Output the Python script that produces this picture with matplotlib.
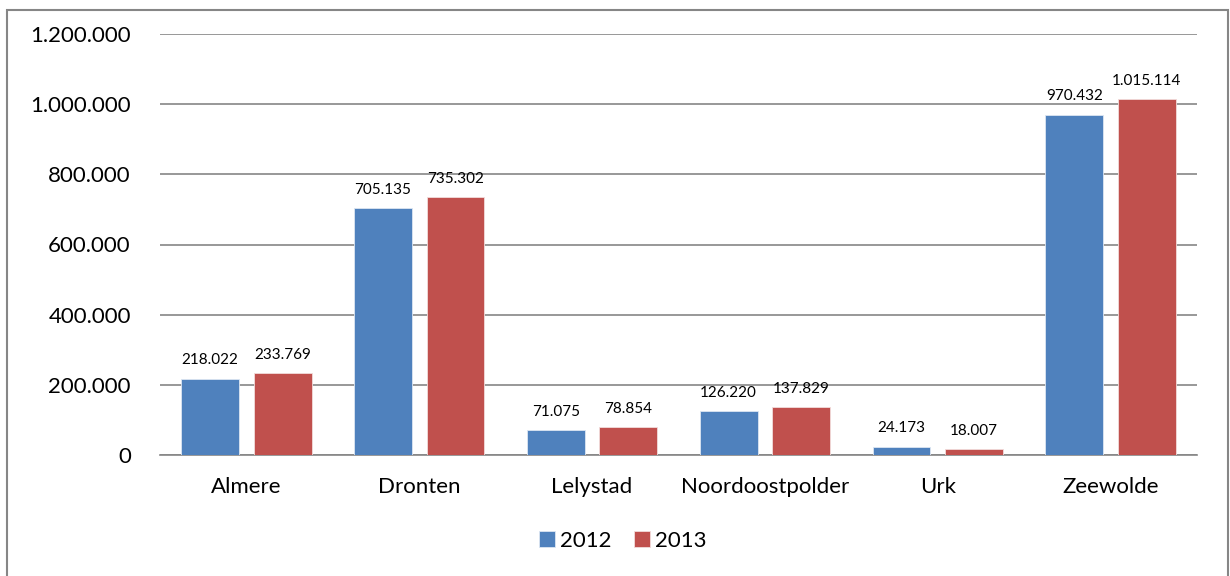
import matplotlib
matplotlib.use("Agg")
import matplotlib.pyplot as plt
import numpy as np
from matplotlib.patches import Rectangle
from matplotlib.ticker import FuncFormatter

categories = ["Almere", "Dronten", "Lelystad", "Noordoostpolder", "Urk", "Zeewolde"]
vals_2012 = [218022, 705135, 71075, 126220, 24173, 970432]
vals_2013 = [233769, 735302, 78854, 137829, 18007, 1015114]
series_names = ["2012", "2013"]
colors = ["#4F81BD", "#C0504D"]

plt.rcParams['font.family'] = ['Lato', 'DejaVu Sans']

def nl(v):
    return f"{int(v):,}".replace(",", ".")

fig = plt.figure(figsize=(12.3, 5.76), dpi=100)
fig.patches.append(Rectangle((7/1230, -0.01), (1228-7)/1230, (572)/576, transform=fig.transFigure,
                             fill=False, edgecolor="#868686", linewidth=1.5))
ax = fig.add_axes([160/1230, 121/576, (1197-160)/1230, (455-34)/576])

x = np.arange(len(categories))
w = 0.335
off = 0.21
for i, (vals, c, name) in enumerate(zip([vals_2012, vals_2013], colors, series_names)):
    pos = x + (-off if i == 0 else off)
    ax.bar(pos, vals, width=w, color=c, edgecolor="#dce6f2" if i == 0 else "#f2dcdb",
           linewidth=0.6, label=name, zorder=3)
    for p, v in zip(pos, vals):
        ax.annotate(nl(v), (p, v), xytext=(0, 8), textcoords="offset points",
                    ha="center", va="bottom", fontsize=11, color="#000000")

ax.set_xlim(-0.5, len(categories) - 0.5)
ax.set_ylim(0, 1200000)
ax.set_yticks(np.arange(0, 1200001, 200000))
ax.yaxis.set_major_formatter(FuncFormatter(lambda v, p: nl(v)))
ax.set_xticks(x)
ax.set_xticklabels(categories)
ax.tick_params(axis="both", length=0)
ax.tick_params(axis="x", pad=16, labelsize=16)
ax.tick_params(axis="y", pad=21, labelsize=16)
ax.grid(axis="y", color="#868686", linewidth=1.2, zorder=0)
for s in ["top", "right", "left"]:
    ax.spines[s].set_visible(False)
ax.spines["bottom"].set_color("#868686")
ax.spines["bottom"].set_linewidth(1.2)

fig.legend(loc="center", bbox_to_anchor=(623/1230, 1 - 541/576), ncol=2, frameon=False,
           fontsize=16, handlelength=0.7, handleheight=0.7, handletextpad=0.25,
           columnspacing=1.0)

fig.savefig("out.png", dpi=100)
